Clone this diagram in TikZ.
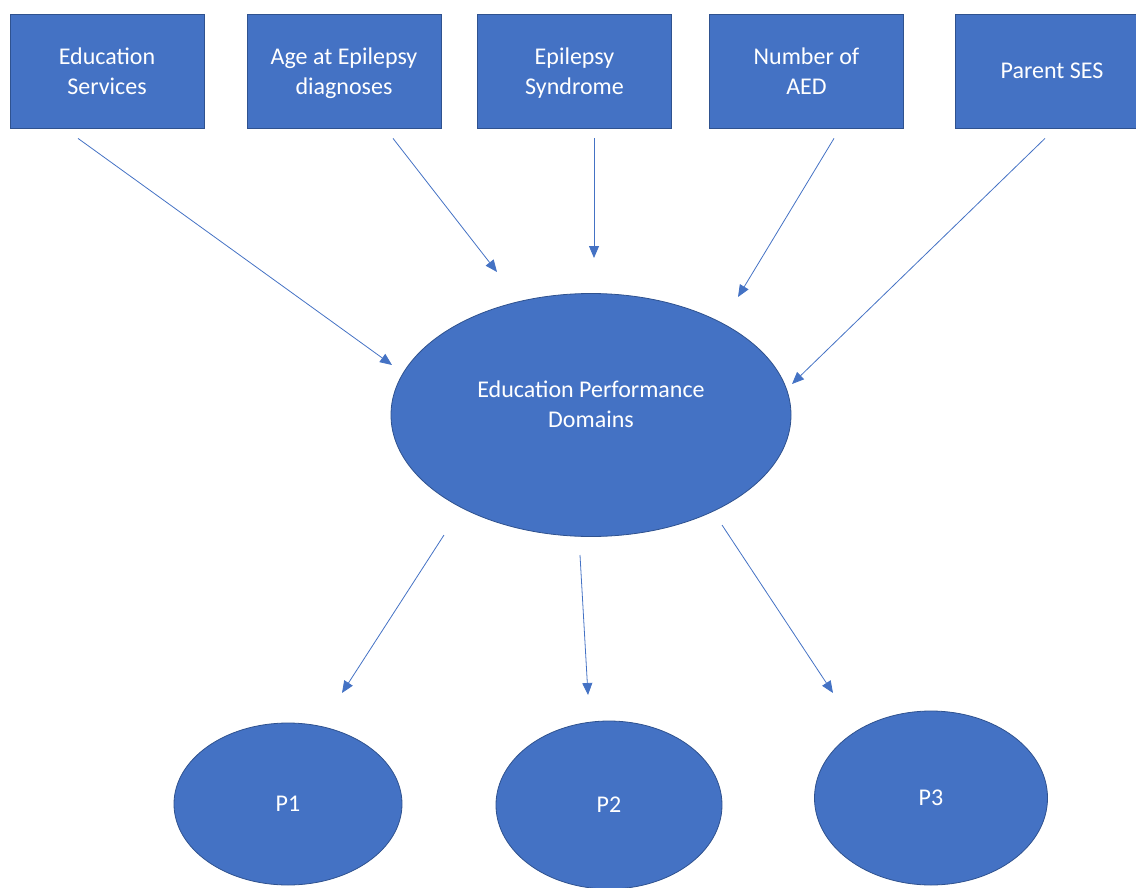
\documentclass[tikz,border=0pt]{standalone}
\usepackage{fontspec}
\setmainfont{Carlito}
\usepackage{tikz}
\usetikzlibrary{shapes.geometric,arrows.meta}

\definecolor{boxblue}{HTML}{4472C4}
\definecolor{edgeblue}{HTML}{2F528F}

\tikzset{
  factor/.style={draw=edgeblue, line width=0.8pt, fill=boxblue, text=white, minimum width=194pt, minimum height=114pt, text depth=0pt, align=center, font=\fontsize{24}{30}\selectfont},
  perfdomain/.style={ellipse, draw=edgeblue, line width=0.8pt, fill=boxblue, text=white, minimum width=400pt, minimum height=243pt, align=center, font=\fontsize{24}{30}\selectfont},
  outcome/.style={ellipse, draw=edgeblue, line width=0.8pt, fill=boxblue, text=white, align=center, font=\fontsize{24}{30}\selectfont},
  arr/.style={draw=boxblue, line width=0.8pt, -{Triangle[length=12pt,width=10pt]}}
}

\begin{document}
\begin{tikzpicture}[x=1pt,y=-1pt]
\useasboundingbox (0,0) rectangle (1136,888);

% factors
\node[factor] (edu) at (107,71) {Education\\Services};
\node[factor] (age) at (344,71) {Age at Epilepsy\\diagnoses};
\node[factor] (syn) at (574.5,71) {Epilepsy\\Syndrome};
\node[factor] (aed) at (806.5,71) {Number of\\AED};
\node[factor] (ses) at (1052,71) {Parent SES};

% domains
\node[perfdomain, text depth=21pt] (epd) at (591,415) {Education Performance\\Domains};

% outcomes
\node[outcome, minimum width=228pt, minimum height=162pt] (p1) at (288,804) {P1};
\node[outcome, minimum width=226pt, minimum height=168pt] (p2) at (609,805) {P2};
\node[outcome, minimum width=233pt, minimum height=174pt] (p3) at (931,798) {P3};

% arrows in
\draw[arr] ([shift={(-29,10)}]edu.south) -- ([shift={(-199,-50)}]epd.center);
\draw[arr] ([shift={(49,10)}]age.south) -- ([shift={(-94,-143)}]epd.center);
\draw[arr] ([shift={(19.5,10)}]syn.south) -- ([shift={(3,-157)}]epd.center);
\draw[arr] ([shift={(27.5,10)}]aed.south) -- ([shift={(147,-118)}]epd.center);
\draw[arr] ([shift={(-7,10)}]ses.south) -- ([shift={(201,-31)}]epd.center);

% arrows out
\draw[arr] ([shift={(-147,120)}]epd.center) -- ([shift={(54,-111)}]p1.center);
\draw[arr] ([shift={(-11,140)}]epd.center) -- ([shift={(-21,-110)}]p2.center);
\draw[arr] ([shift={(131,110)}]epd.center) -- ([shift={(-98,-105)}]p3.center);
\end{tikzpicture}
\end{document}
